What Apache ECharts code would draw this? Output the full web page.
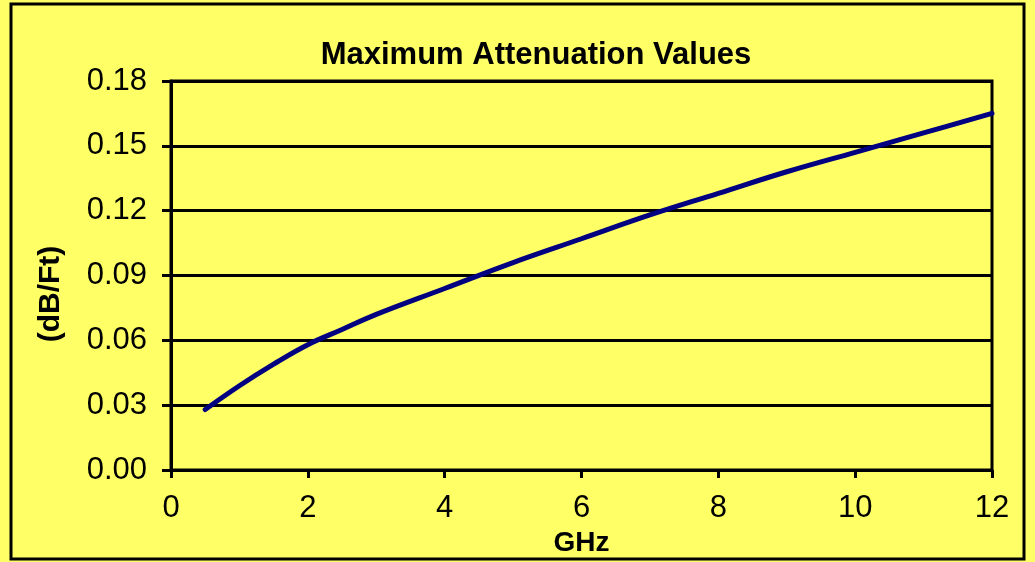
<!DOCTYPE html>
<html>
<head>
<meta charset="utf-8">
<style>
html,body{margin:0;padding:0;background:#FFFF66;}
#chart{width:1035px;height:562px;}
</style>
<script src="https://cdn.jsdelivr.net/npm/echarts@6/dist/echarts.min.js"></script>
</head>
<body>
<div id="chart"></div>
<script>
// Data
const freqGHz = [0.5, 1, 1.5, 2, 2.5, 3, 4, 5, 6, 7, 8, 9, 10, 11, 12];
const attenDbFt = [0.028, 0.039, 0.049, 0.058, 0.065, 0.072, 0.084, 0.096, 0.107, 0.118, 0.128, 0.138, 0.147, 0.156, 0.165];
const titleText = 'Maximum Attenuation Values';
const xName = 'GHz';
const yName = '(dB/Ft)';

const font = '"Liberation Sans", Arial, sans-serif';
const chart = echarts.init(document.getElementById('chart'));
chart.setOption({
  backgroundColor: '#FFFF66',
  animation: false,
  title: {
    text: titleText,
    left: 531,
    top: 35,
    textAlign: 'center',
    textStyle: {fontFamily: font, fontWeight: 'bold', fontSize: 31, color: '#000'}
  },
  graphic: [{
    type: 'rect',
    shape: {x: 11, y: 4, width: 1013, height: 555},
    style: {fill: 'none', stroke: '#000', lineWidth: 3},
    silent: true
  }],
  grid: {
    left: 171, right: 43, top: 81, bottom: 92,
    show: true, borderColor: '#000', borderWidth: 3, backgroundColor: 'transparent'
  },
  xAxis: {
    type: 'value', min: 0, max: 12, interval: 2,
    name: xName, nameLocation: 'middle', nameGap: 49,
    nameTextStyle: {fontFamily: font, fontWeight: 'bold', fontSize: 28, color: '#000'},
    axisLine: {show: true, lineStyle: {color: '#000', width: 3}},
    axisTick: {show: true, length: 8, lineStyle: {color: '#000', width: 3}},
    axisLabel: {fontFamily: font, fontSize: 31, color: '#000', margin: 23},
    splitLine: {show: false}
  },
  yAxis: {
    type: 'value', min: 0, max: 0.18, interval: 0.03,
    name: yName, nameLocation: 'middle', nameGap: 105,
    nameTextStyle: {fontFamily: font, fontWeight: 'bold', fontSize: 30, color: '#000', padding: [0, 37, 0, 0]},
    axisLine: {show: true, lineStyle: {color: '#000', width: 3}},
    axisTick: {show: true, length: 9, lineStyle: {color: '#000', width: 3}},
    axisLabel: {fontFamily: font, fontSize: 31, color: '#000', margin: 24,
      formatter: v => v.toFixed(2)},
    splitLine: {show: true, lineStyle: {color: '#000', width: 3}}
  },
  series: [{
    type: 'line',
    data: freqGHz.map((f, i) => [f, attenDbFt[i]]),
    smooth: 0.4,
    showSymbol: false,
    lineStyle: {color: '#000080', width: 5, cap: 'round'}
  }]
});
</script>
</body>
</html>
